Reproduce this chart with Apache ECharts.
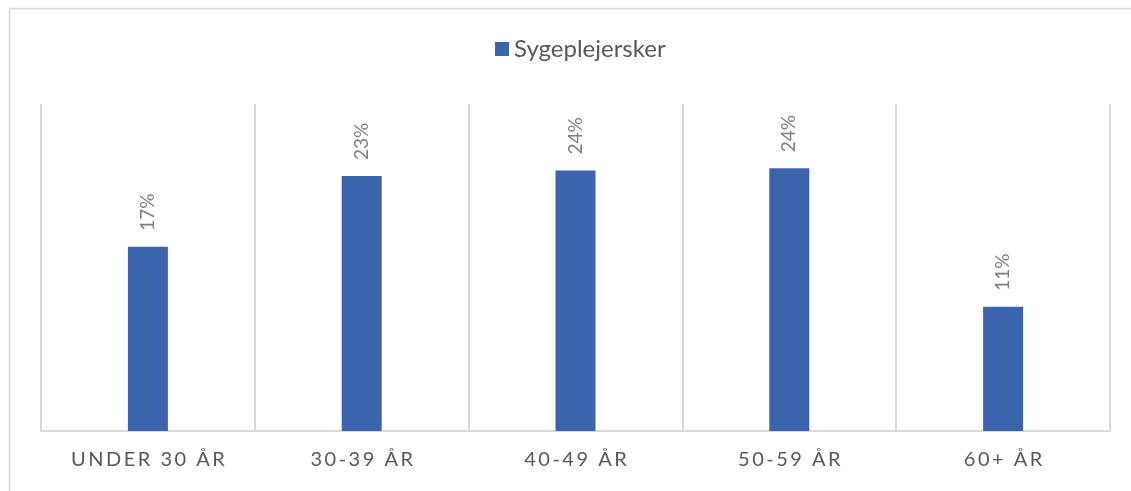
<!DOCTYPE html>
<html>
<head>
<meta charset="utf-8">
<script src="https://cdn.jsdelivr.net/npm/echarts@6/dist/echarts.min.js"></script>
<style>
  html, body { margin: 0; padding: 0; background: #ffffff; }
  #chart { width: 1131px; height: 491px; }
</style>
</head>
<body>
<div id="chart"></div>
<script>
const categories = ['UNDER 30 ÅR', '30-39 ÅR', '40-49 ÅR', '50-59 ÅR', '60+ ÅR'];
const seriesName = 'Sygeplejersker';
const values = [16.9, 23.4, 23.9, 24.1, 11.4];

const chart = echarts.init(document.getElementById('chart'), null, { renderer: 'canvas' });
const font = 'Lato, "Open Sans", sans-serif';
chart.setOption({
  animation: false,
  backgroundColor: '#ffffff',
  textStyle: { fontFamily: font },
  graphic: [{
    type: 'rect',
    shape: { x: 9.5, y: 8.5, width: 1300, height: 700 },
    style: { fill: 'none', stroke: '#d9d9d9', lineWidth: 1.5 },
    silent: true
  }],
  legend: {
    data: [seriesName],
    top: 32,
    left: 490,
    icon: 'rect',
    itemWidth: 14,
    itemHeight: 14,
    itemGap: 5,
    textStyle: { color: '#595959', fontSize: 24, fontFamily: font, padding: [0, 0, 0, 0] }
  },
  grid: { left: 41, right: 21, top: 104, bottom: 60, containLabel: false },
  xAxis: {
    type: 'category',
    data: categories,
    axisLine: { show: true, lineStyle: { color: '#d9d9d9', width: 2 } },
    axisTick: { show: false },
    splitLine: { show: true, lineStyle: { color: '#d9d9d9', width: 2 } },
    axisLabel: {
      color: '#595959',
      fontSize: 20,
      margin: 19,
      fontFamily: font,
      formatter: v => v.split('').join('\u2009')
    }
  },
  yAxis: {
    type: 'value',
    min: 0,
    max: 30,
    interval: 5,
    show: false,
    splitLine: { show: false }
  },
  series: [{
    name: seriesName,
    type: 'bar',
    data: values,
    barWidth: 40,
    itemStyle: { color: '#3b64ad' },
    label: {
      show: true,
      position: 'top',
      rotate: 90,
      align: 'left',
      verticalAlign: 'middle',
      distance: 16,
      color: '#7f7f7f',
      fontSize: 19,
      fontFamily: font,
      formatter: p => Math.round(p.value) + '%'
    }
  }]
});
</script>
</body>
</html>
